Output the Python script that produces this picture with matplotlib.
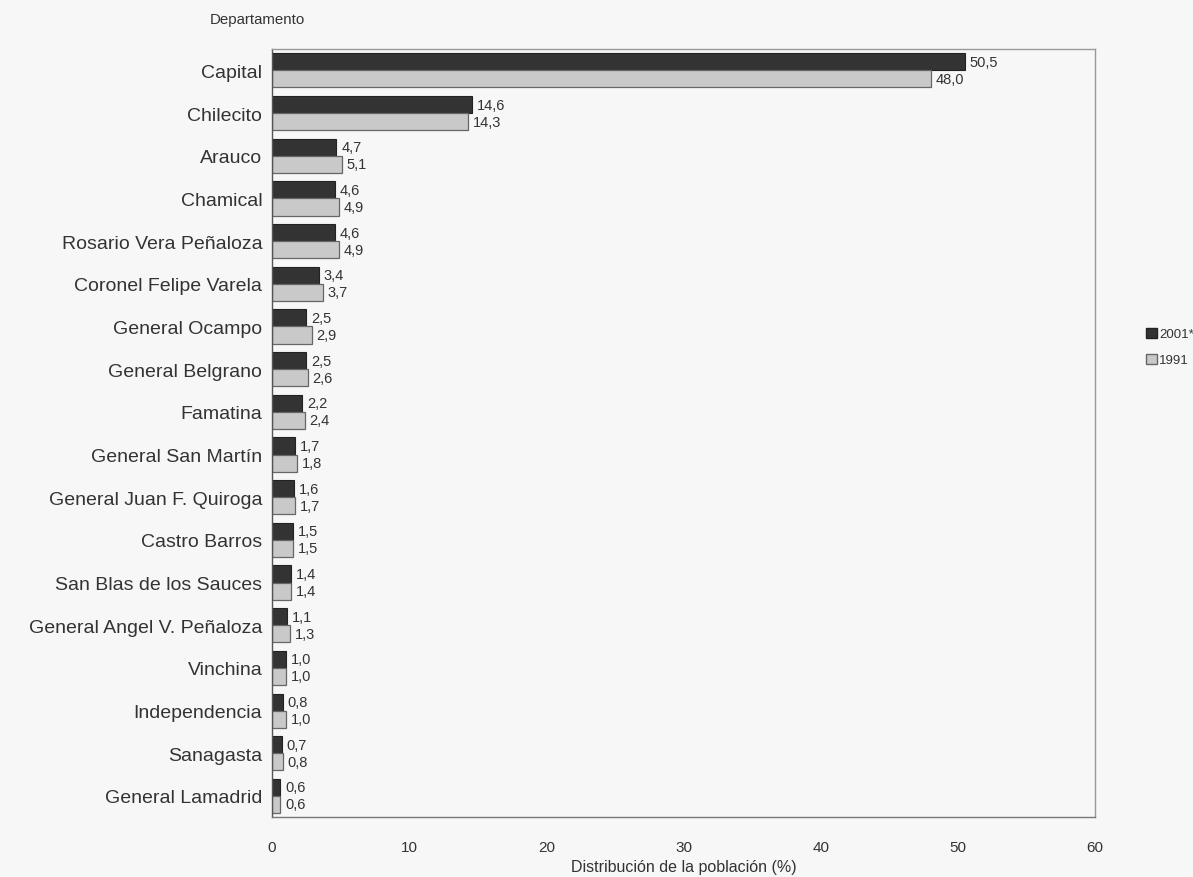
import matplotlib
matplotlib.use("Agg")
import matplotlib.pyplot as plt
import numpy as np
from matplotlib.patches import Patch

plt.rcParams['font.family'] = ['Liberation Sans', 'DejaVu Sans']

departamentos = ["Capital", "Chilecito", "Arauco", "Chamical", "Rosario Vera Peñaloza",
                 "Coronel Felipe Varela", "General Ocampo", "General Belgrano", "Famatina",
                 "General San Martín", "General Juan F. Quiroga", "Castro Barros",
                 "San Blas de los Sauces", "General Angel V. Peñaloza", "Vinchina",
                 "Independencia", "Sanagasta", "General Lamadrid"]
v2001 = [50.5, 14.6, 4.7, 4.6, 4.6, 3.4, 2.5, 2.5, 2.2, 1.7, 1.6, 1.5, 1.4, 1.1, 1.0, 0.8, 0.7, 0.6]
v1991 = [48.0, 14.3, 5.1, 4.9, 4.9, 3.7, 2.9, 2.6, 2.4, 1.8, 1.7, 1.5, 1.4, 1.3, 1.0, 1.0, 0.8, 0.6]
series_labels = ["2001*", "1991"]
xticks = [0, 10, 20, 30, 40, 50, 60]

dark = "#333333"
light = "#c9c9c9"

fig = plt.figure(figsize=(11.93, 8.78), dpi=100)
fig.patch.set_facecolor("#f7f7f7")
ax = fig.add_axes([0.228, 0.068, 0.690, 0.875])
ax.set_facecolor("#f7f7f7")

n = len(departamentos)
y = np.arange(n)
h = 0.40
ax.barh(y - h / 2, v2001, height=h, color=dark, edgecolor="#222222", linewidth=0.8)
ax.barh(y + h / 2, v1991, height=h, color=light, edgecolor="#666666", linewidth=0.9)

for i in range(n):
    ax.text(v2001[i] + 0.35, y[i] - h / 2, f"{v2001[i]:.1f}".replace(".", ","),
            va="center", ha="left", fontsize=10.5, color="#333333")
    ax.text(v1991[i] + 0.35, y[i] + h / 2, f"{v1991[i]:.1f}".replace(".", ","),
            va="center", ha="left", fontsize=10.5, color="#333333")

ax.set_ylim(n - 0.5, -0.5)
ax.set_xlim(0, 60)
ax.set_xticks(xticks)
ax.set_xticklabels([str(t) for t in xticks], fontsize=11, color="#333333")
ax.set_yticks(y)
ax.set_yticklabels(departamentos, fontsize=14, color="#333333")
ax.tick_params(axis="both", length=0)
ax.tick_params(axis="x", pad=16)
ax.tick_params(axis="y", pad=7)
for s in ax.spines.values():
    s.set_color("#999999")
    s.set_linewidth(1.0)
ax.spines["left"].set_color("#555555")
ax.spines["bottom"].set_color("#777777")

ax.set_xlabel("Distribución de la población (%)", fontsize=11.5, labelpad=4, color="#333333")
fig.text(257 / 1193, 1 - 20 / 878, "Departamento", fontsize=10.8, ha="center", va="center",
         color="#333333")

handles = [Patch(facecolor=dark, edgecolor="#222222"), Patch(facecolor=light, edgecolor="#666666")]
fig.legend(handles, series_labels, loc="center left", bbox_to_anchor=(1146 / 1193, 1 - 348 / 878),
           frameon=False, fontsize=9.5, handlelength=0.8, handleheight=0.8, handletextpad=0.2,
           labelspacing=1.0, borderaxespad=0, borderpad=0, labelcolor="#333333")

fig.savefig("out.png", dpi=100, facecolor=fig.get_facecolor())
